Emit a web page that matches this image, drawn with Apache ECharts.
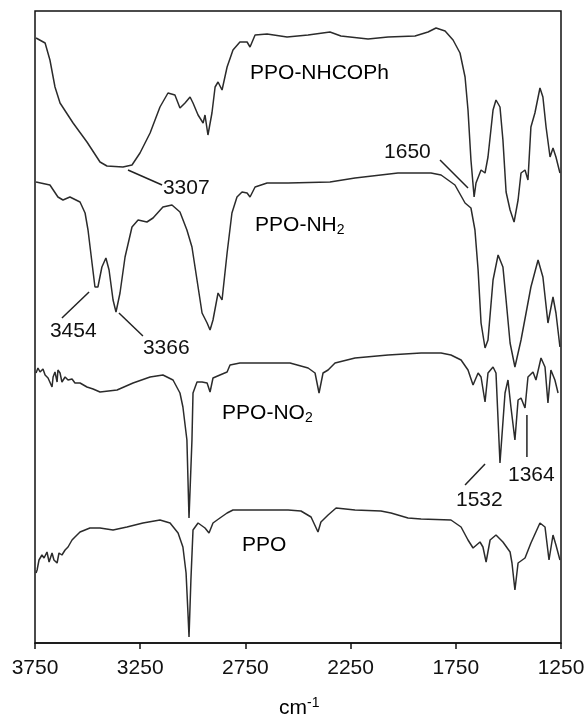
<!DOCTYPE html>
<html><head><meta charset="utf-8">
<script src="https://cdn.jsdelivr.net/npm/echarts@6/dist/echarts.min.js"></script>
<style>html,body{margin:0;padding:0;background:#fff}#c{width:588px;height:715px}</style>
</head><body><div id="c"></div>
<script>
// x: wavenumber (cm-1); y: arbitrary stacked intensity units
const tickLabels = [3750, 3250, 2750, 2250, 1750, 1250];

const nhcophWn  = [3745,3702,3679,3655,3631,3569,3503,3441,3408,3332,3289,3251,3203,3156,3118,3085,3061,3037,3013,2999,2975,2951,2942,2928,2909,2894,2880,2861,2837,2809,2776,2742,2728,2704,2647,2552,2452,2348,2296,2167,2072,1944,1882,1844,1801,1763,1730,1706,1692,1678,1663,1654,1630,1611,1597,1573,1559,1540,1526,1511,1492,1473,1454,1440,1421,1407,1393,1374,1350,1336,1321,1302,1288,1274,1255];
const nhcophVal = [605,600,583,556,540,520,501,481,477,476,478,490,510,536,550,548,535,540,546,540,528,520,528,508,530,556,561,553,576,593,601,601,596,608,609,606,608,611,607,604,606,607,611,615,612,603,590,566,533,483,446,460,473,470,486,533,543,536,503,451,433,421,443,470,473,463,516,530,555,546,516,486,495,486,470];

const nh2Wn  = [3745,3679,3641,3617,3584,3536,3512,3498,3479,3465,3451,3432,3413,3398,3379,3365,3346,3322,3289,3260,3218,3189,3142,3099,3061,3028,3004,2980,2956,2932,2918,2904,2880,2861,2837,2814,2790,2766,2742,2728,2704,2647,2547,2348,2229,2025,1868,1820,1754,1706,1678,1659,1644,1630,1611,1597,1573,1549,1526,1511,1492,1469,1440,1416,1393,1359,1336,1312,1288,1274,1255];
const nh2Val = [461,458,446,443,446,441,430,413,380,356,356,376,385,373,343,331,350,386,416,423,421,425,436,438,431,413,396,363,330,320,313,323,350,343,390,430,446,451,450,446,456,460,460,461,465,470,470,468,458,440,435,413,373,320,295,303,363,388,376,343,300,276,303,330,356,383,366,320,346,330,296];

const no2Wn  = [3745,3736,3726,3712,3702,3688,3669,3664,3655,3645,3641,3631,3622,3607,3593,3574,3560,3536,3503,3474,3441,3360,3284,3203,3142,3094,3061,3047,3028,3018,3004,2999,2980,2956,2932,2918,2904,2871,2837,2823,2776,2647,2538,2452,2419,2400,2381,2357,2324,2229,2072,1915,1820,1773,1725,1692,1668,1644,1630,1611,1597,1573,1559,1540,1516,1502,1488,1469,1454,1440,1421,1407,1383,1369,1345,1326,1312,1298,1279,1264];
const no2Val = [270,275,271,274,268,265,256,266,271,261,273,270,261,266,263,264,260,260,256,254,251,253,260,266,268,263,250,236,203,125,203,250,261,261,260,251,265,268,271,278,280,280,280,275,270,250,270,273,280,285,288,290,290,288,283,273,258,270,266,241,270,276,270,180,250,263,236,203,243,245,235,266,271,263,285,276,240,273,263,250];

const ppoWn  = [3745,3740,3731,3717,3707,3693,3683,3669,3660,3645,3636,3622,3607,3593,3574,3560,3536,3489,3441,3379,3313,3237,3156,3108,3070,3047,3032,3023,3018,3009,2999,2975,2942,2923,2904,2871,2837,2809,2714,2547,2486,2438,2405,2391,2357,2319,2229,2106,2058,1977,1915,1773,1725,1692,1668,1635,1621,1606,1587,1559,1526,1492,1483,1469,1454,1421,1393,1350,1326,1307,1288,1274,1255];
const ppoVal = [70,73,83,88,85,91,81,90,83,80,90,88,93,96,103,106,111,115,115,113,116,120,123,120,110,96,70,30,6,63,113,120,115,110,120,125,130,133,133,133,132,126,111,121,128,135,133,132,130,125,124,123,116,103,95,101,96,81,103,108,101,91,80,53,80,85,100,120,116,83,108,98,83];

// annotations (data units)
const traceNames = ['PPO-NHCOPh', 'PPO-NH', 'PPO-NO', 'PPO'];
const traceSubs = ['', '2', '2', ''];
const traceNameWn = [2728, 2704, 2861, 2766];
const traceNameVal = [570, 418, 230, 98];

const peakLabels = ['3307', '1650', '3454', '3366', '1532', '1364'];
const peakLabelWn = [3142, 2091, 3679, 3237, 1749, 1502];
const peakLabelVal = [455, 491, 312, 295, 143, 168];
const leaderFrom = [[3308,473],[1825,483],[3622,325],[3351,330],[1706,158],[1412,228]];
const leaderTo   = [[3146,458],[1692,455],[3493,351],[3237,307],[1611,179],[1412,186]];

function zip(a, b) { return a.map((x, i) => [x, b[i]]); }

const chart = echarts.init(document.getElementById('c'));
const lineStyle = { color: '#2b2b2b', width: 1.5 };
const FONT = "'Liberation Sans', Arial, sans-serif";
chart.setOption({
  animation: false,
  backgroundColor: '#fff',
  grid: { left: 35, right: 27, top: 11, bottom: 72, show: true, borderColor: '#111', borderWidth: 1.5, backgroundColor: 'transparent' },
  xAxis: {
    type: 'value', inverse: true, min: 1250, max: 3750,
    axisLine: { show: true, lineStyle: { color: '#111', width: 1.5 } },
    axisTick: { show: true, length: 6, inside: false, customValues: tickLabels, lineStyle: { color: '#111', width: 1.5 } },
    axisLabel: { customValues: tickLabels, formatter: v => String(v), fontSize: 21, fontFamily: FONT, color: '#111', margin: 15 },
    splitLine: { show: false }
  },
  yAxis: { type: 'value', min: 0, max: 632, show: false },
  series: [
    { type: 'line', data: zip(nhcophWn, nhcophVal), showSymbol: false, lineStyle },
    { type: 'line', data: zip(nh2Wn, nh2Val), showSymbol: false, lineStyle },
    { type: 'line', data: zip(no2Wn, no2Val), showSymbol: false, lineStyle },
    { type: 'line', data: zip(ppoWn, ppoVal), showSymbol: false, lineStyle }
  ]
});

const rich = {
  n: { fontSize: 21, lineHeight: 24, fontFamily: FONT, color: '#111' },
  s: { fontSize: 14, lineHeight: 14, fontFamily: FONT, color: '#111', verticalAlign: 'bottom' },
  u: { fontSize: 14, lineHeight: 14, fontFamily: FONT, color: '#111', verticalAlign: 'top' }
};
const g = [];
traceNames.forEach((t, i) => {
  const p = chart.convertToPixel({ gridIndex: 0 }, [traceNameWn[i], traceNameVal[i]]);
  const txt = '{n|' + t + '}' + (traceSubs[i] ? '{s|' + traceSubs[i] + '}' : '');
  g.push({ type: 'text', x: p[0], y: p[1], style: { text: txt, rich, align: 'left', verticalAlign: 'middle' } });
});
peakLabels.forEach((t, i) => {
  const p = chart.convertToPixel({ gridIndex: 0 }, [peakLabelWn[i], peakLabelVal[i]]);
  g.push({ type: 'text', x: p[0], y: p[1], style: { text: t, fontSize: 21, fontFamily: FONT, fill: '#111', align: 'left', verticalAlign: 'middle' } });
  const a = chart.convertToPixel({ gridIndex: 0 }, leaderFrom[i]);
  const b = chart.convertToPixel({ gridIndex: 0 }, leaderTo[i]);
  g.push({ type: 'line', shape: { x1: a[0], y1: a[1], x2: b[0], y2: b[1] }, style: { stroke: '#222', lineWidth: 1.5 } });
});
g.push({ type: 'text', left: 279, top: 696, style: { text: '{n|cm}{u|-1}', rich } });
chart.setOption({ graphic: g });
</script></body></html>
